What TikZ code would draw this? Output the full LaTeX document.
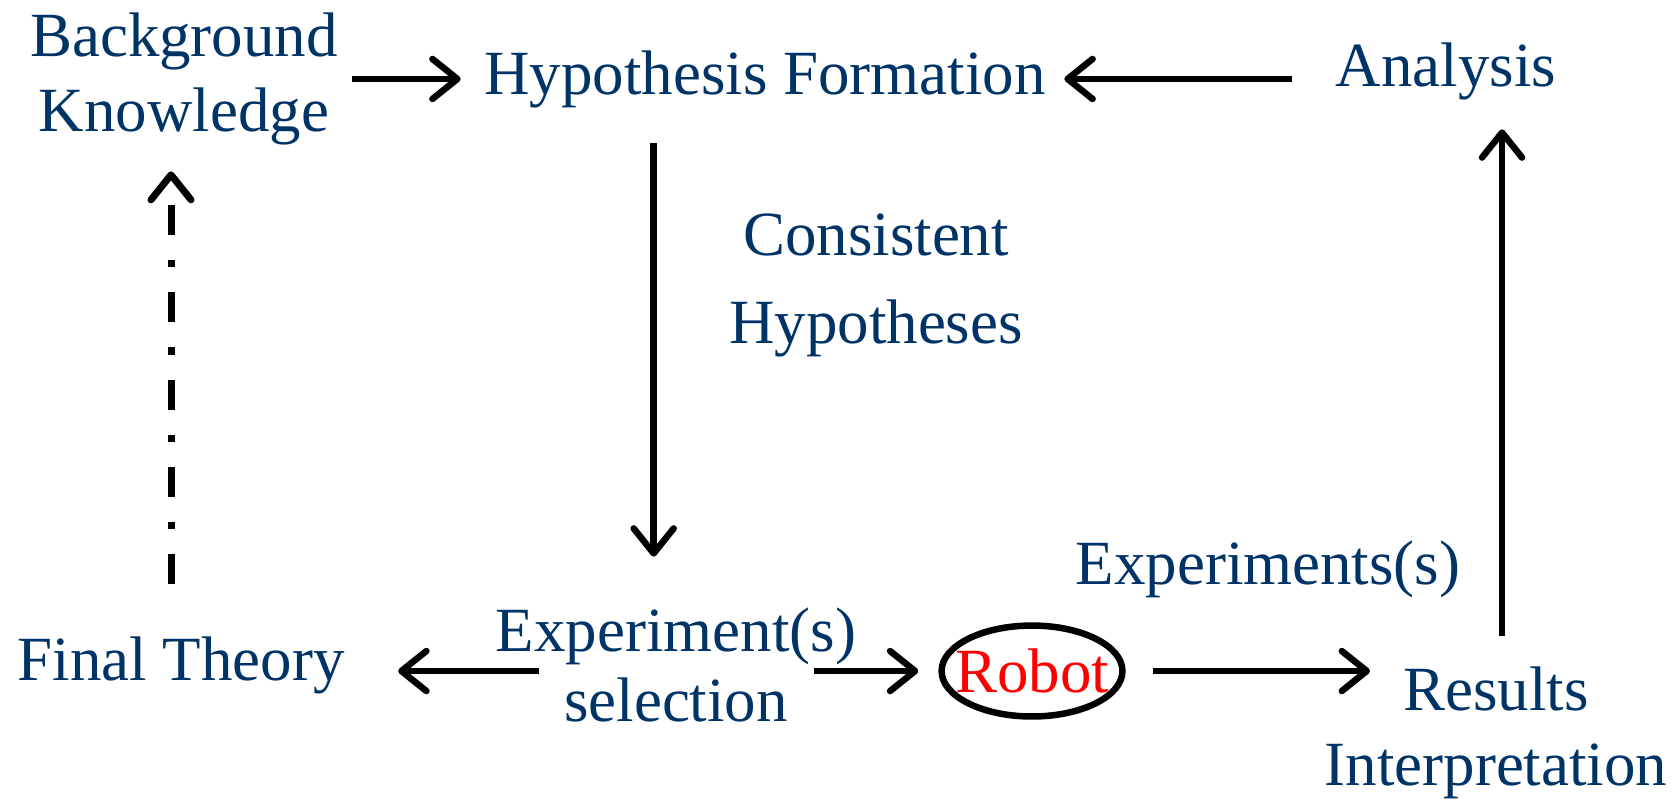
\documentclass[tikz,border=0pt]{standalone}
\usepackage{fontspec}
\setmainfont{Liberation Serif}
\usetikzlibrary{arrows.meta,shapes.geometric,calc}
\definecolor{navy}{RGB}{0,51,102}
\begin{document}
\begin{tikzpicture}[x=0.01cm,y=-0.01cm]
    \tikzset{% styles for the labels and the arrows
    lbl/.style={text=navy,font=\fontsize{17.9}{21.3}\selectfont,inner sep=0pt,align=center,anchor=base},
    arr/.style={-{Straight Barb[length=0.25cm,width=0.4cm,round]},line width=0.065cm},
    dd/.style={arr,line width=0.07cm,dash pattern=on 0.3cm off 0.25cm on 0.07cm off 0.25cm},
    bot/.style={ellipse,draw,line width=0.065cm,inner xsep=-0.13cm,inner ysep=0.1cm,text=red,font=\fontsize{17.9}{21.3}\selectfont},
    }
    \useasboundingbox (0,0) rectangle (1680,799);
    % Nodes (multi-line labels sit on the base of their last line)
    \node[lbl] (bk) at (184,131) {Background\\Knowledge};
    \node[lbl] (hf) at (765,94) {Hypothesis Formation};
    \node[lbl] (an) at (1446,86) {Analysis};
    \node[lbl,font=\fontsize{17.9}{25}\selectfont] (ch) at (876,343) {Consistent\\Hypotheses};
    \node[lbl] (ft) at (181,680) {Final Theory};
    \node[lbl,font=\fontsize{17.9}{19.9}\selectfont] (es) at (676,721) {Experiment(s)\\selection};
    \node[bot] (robot) at (1032,671) {Robot};
    \node[lbl] (exs) at (1268,584) {Experiments(s)};
    \node[lbl] (ri) at (1496,785) {Results\\Interpretation};

    % Arrows
    \draw[arr] ($(bk.east |- hf.west)+(13,0)$) -- ($(hf.west)+(-23,0)$);
    \draw[arr] ($(an.west |- hf.east)+(-43,0)$) -- ($(hf.east)+(18,0)$);
    \draw[arr] ($(hf.south west)+(170,35)$) -- ($(hf.south west |- es.north)+(170,-50)$);
    \draw[dd] ($(ft.north)+(-10,-52)$) -- ($(bk.south)+(-13,26)$);
    \draw[arr] ($(es.west |- robot)+(44,0)$) -- ($(ft.east |- robot)+(53,0)$);
    \draw[arr] ($(es.east |- robot)+(-43,0)$) -- ($(robot.west)+(-20,0)$);
    \draw[arr] ($(robot.east)+(27,0)$) -- ($(ri.west |- robot)+(46,0)$);
    \draw[arr] ($(ri.north)+(6,-30)$) -- ($(an.south)+(56,29)$);
\end{tikzpicture}
\end{document}
